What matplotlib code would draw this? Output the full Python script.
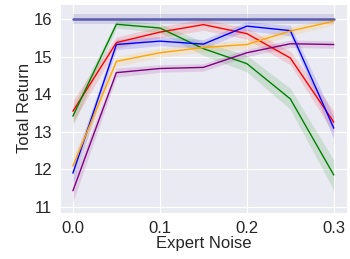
import matplotlib

matplotlib.use("Agg")

import matplotlib.pyplot as plt
import numpy as np
import seaborn as sns

noise = [0.0, 0.05, 0.1, 0.15, 0.2, 0.25, 0.3]

expert_mean = [16.01] * 7
expert_std = [0.13] * 7

series = {
    "red": ([13.55, 15.38, 15.66, 15.86, 15.62, 14.97, 13.26],
            [0.3, 0.15, 0.15, 0.15, 0.15, 0.18, 0.3]),
    "green": ([13.42, 15.87, 15.77, 15.22, 14.82, 13.88, 11.85],
              [0.25, 0.1, 0.12, 0.18, 0.22, 0.28, 0.4]),
    "blue": ([11.9, 15.33, 15.42, 15.34, 15.82, 15.70, 13.1],
             [0.25, 0.14, 0.12, 0.12, 0.12, 0.14, 0.3]),
    "orange": ([12.09, 14.88, 15.11, 15.25, 15.33, 15.69, 15.95],
               [0.25, 0.13, 0.12, 0.12, 0.12, 0.12, 0.1]),
    "purple": ([11.43, 14.58, 14.69, 14.72, 15.11, 15.35, 15.33],
               [0.3, 0.12, 0.1, 0.1, 0.1, 0.1, 0.1]),
}

sns.set_style("darkgrid")
plt.rcParams["font.family"] = ["Liberation Sans", "DejaVu Sans"]

fig = plt.figure(figsize=(3.5, 2.59), dpi=100)
ax = fig.add_axes([0.171, 0.178, 0.820, 0.808])

x = np.array(noise)
em = np.array(expert_mean)
es = np.array(expert_std)
ax.fill_between(x, em - es, em + es, color="#3a3a9a", alpha=0.14, linewidth=0)
ax.plot(x, em, color="#3a3aa0", linewidth=1.8, alpha=0.8)

for color, (mean, std) in series.items():
    m = np.array(mean)
    s = np.array(std)
    ax.fill_between(x, m - s, m + s, color=color, alpha=0.13, linewidth=0)
    ax.plot(x, m, color=color, linewidth=1.0)

ax.set_xlim(-0.015, 0.315)
ax.set_ylim(10.84, 16.42)
ax.set_xticks([0.0, 0.1, 0.2, 0.3])
ax.set_yticks([11, 12, 13, 14, 15, 16])
ax.tick_params(labelsize=12, pad=2, colors="#262626")
ax.set_xlabel("Expert Noise", fontsize=12, labelpad=0, color="#262626")
ax.set_ylabel("Total Return", fontsize=12, labelpad=1, color="#262626")

fig.savefig("out.png", dpi=100)
plt.close(fig)
